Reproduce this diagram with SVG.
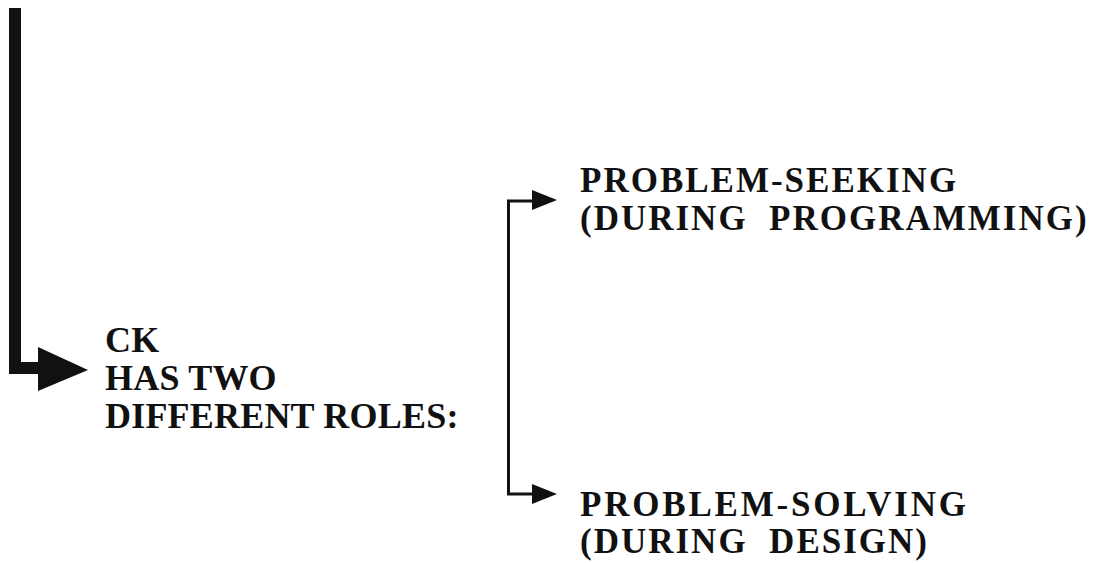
<svg xmlns="http://www.w3.org/2000/svg" width="1099" height="563" viewBox="0 0 1099 563">
<style>
.t{font-family:"Liberation Serif","Times New Roman",serif;font-weight:bold;font-size:35px;fill:#111}
.k{font-size:36px;letter-spacing:0.2px}
.w{letter-spacing:2px}
.c{fill:none;stroke:#111;stroke-linejoin:miter}
</style>
<rect width="1099" height="563" fill="#fff"/>
<g id="connectors">
<path class="c" d="M15,8 V368 H42" stroke-width="12"/>
<polygon points="38,347 88,370 38,391" fill="#111"/>
<path class="c" d="M534,201 H508.5 V494 H534" stroke-width="3"/>
<polygon points="532,190 557,200 532,210" fill="#111"/>
<polygon points="532,484 557,494 532,504" fill="#111"/>
</g>
<g id="ck"><text class="t k" x="105" y="352">CK</text><text class="t k" x="105" y="390">HAS TWO</text><text class="t k" x="105" y="428">DIFFERENT ROLES:</text></g>
<g id="seeking"><text class="t w" x="580" y="192">PROBLEM-SEEKING</text><text class="t w" x="580" y="230" xml:space="preserve">(DURING  PROGRAMMING)</text></g>
<g id="solving"><text class="t w" x="580" y="516" style="letter-spacing:2.8px">PROBLEM-SOLVING</text><text class="t w" x="580" y="553" xml:space="preserve">(DURING  DESIGN)</text></g>
</svg>
